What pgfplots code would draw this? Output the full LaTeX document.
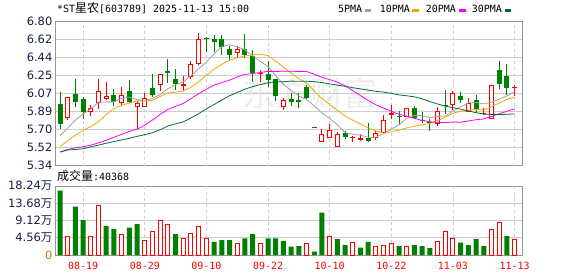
\documentclass[border=0pt]{standalone}
\usepackage{fontspec}
\setmainfont{DejaVu Sans}
\newfontfamily\mono{DejaVu Sans Mono}
\newfontfamily\cjk{Noto Sans CJK SC}
\usepackage{pgfplots}
\usepackage{pgfplotstable}
\pgfplotsset{compat=1.18}

\definecolor{cred}{RGB}{255,0,0}
\definecolor{cgreen}{RGB}{0,128,0}
\definecolor{maA}{RGB}{160,160,160}
\definecolor{maB}{RGB}{245,165,0}
\definecolor{maC}{RGB}{255,0,255}
\definecolor{maD}{RGB}{0,110,50}
\definecolor{gridc}{RGB}{205,205,205}
\definecolor{framec}{RGB}{150,150,150}
\definecolor{lbl}{RGB}{20,30,70}
\definecolor{zeroc}{RGB}{215,120,0}

\pgfplotstableread{
i open high low close
0 5.96 6.09 5.71 5.76
1 5.82 6.04 5.80 6.04
2 6.07 6.22 5.93 5.98
3 6.02 6.04 5.81 5.88
4 5.88 5.95 5.84 5.92
5 5.97 6.22 5.91 6.10
6 6.02 6.19 6.00 6.05
7 6.06 6.12 5.94 5.98
8 5.97 6.14 5.94 6.06
9 6.10 6.21 5.97 5.98
10 5.93 5.99 5.71 5.97
11 5.93 6.08 5.93 6.03
12 6.13 6.27 6.04 6.06
13 6.16 6.27 6.10 6.27
14 6.30 6.42 6.18 6.28
15 6.22 6.32 6.11 6.17
16 6.15 6.25 6.10 6.17
17 6.24 6.40 6.22 6.37
18 6.37 6.69 6.36 6.62
19 6.63 6.64 6.49 6.62
20 6.62 6.66 6.49 6.59
21 6.62 6.67 6.46 6.54
22 6.52 6.55 6.41 6.46
23 6.48 6.55 6.43 6.52
24 6.52 6.68 6.43 6.46
25 6.45 6.51 6.19 6.28
26 6.27 6.31 6.19 6.28
27 6.27 6.40 6.14 6.21
28 6.22 6.22 5.99 6.05
29 5.93 6.03 5.90 6.01
30 6.02 6.08 5.94 5.98
31 6.00 6.08 5.92 5.98
32 6.14 6.16 6.00 6.03
33 5.73 5.73 5.72 5.72
34 5.58 5.71 5.58 5.66
35 5.62 5.76 5.62 5.70
36 5.53 5.68 5.53 5.66
37 5.67 5.69 5.61 5.63
38 5.62 5.64 5.58 5.63
39 5.60 5.66 5.59 5.62
40 5.62 5.77 5.58 5.59
41 5.62 5.69 5.60 5.67
42 5.67 5.85 5.67 5.80
43 5.85 5.95 5.81 5.87
44 5.84 5.89 5.76 5.83
45 5.83 5.92 5.83 5.92
46 5.92 5.94 5.81 5.82
47 5.80 5.88 5.77 5.79
48 5.78 5.81 5.69 5.77
49 5.76 5.93 5.74 5.89
50 5.95 6.11 5.86 5.94
51 5.95 6.10 5.90 6.08
52 6.05 6.09 5.97 6.00
53 5.88 6.03 5.88 5.97
54 6.01 6.06 5.87 5.91
55 5.865 5.92 5.85 5.87
56 5.81 6.16 5.81 6.16
57 6.31 6.40 6.12 6.17
58 6.25 6.37 6.06 6.13
59 6.13 6.16 6.05 6.14
}\candles

\pgfplotstableread{
i a b c d
0 5.643 5.530 5.477 5.477
1 5.719 5.593 5.503 5.497
2 5.802 5.649 5.520 5.503
3 5.862 5.696 5.530 5.510
4 5.916 5.736 5.547 5.530
5 5.984 5.785 5.570 5.547
6 5.986 5.858 5.596 5.566
7 5.986 5.918 5.626 5.583
8 6.022 5.951 5.656 5.600
9 6.034 5.975 5.686 5.616
10 6.008 5.996 5.709 5.636
11 6.004 5.995 5.749 5.653
12 6.018 6.002 5.802 5.673
13 6.060 6.041 5.858 5.703
14 6.120 6.077 5.910 5.742
15 6.160 6.084 5.940 5.763
16 6.188 6.096 5.970 5.783
17 6.252 6.135 6.020 5.823
18 6.322 6.191 6.070 5.866
19 6.390 6.255 6.115 5.916
20 6.474 6.317 6.157 5.959
21 6.548 6.368 6.182 6.005
22 6.566 6.409 6.206 6.048
23 6.546 6.434 6.238 6.082
24 6.514 6.452 6.265 6.115
25 6.452 6.463 6.274 6.141
26 6.396 6.472 6.284 6.161
27 6.346 6.456 6.296 6.181
28 6.252 6.399 6.295 6.191
29 6.162 6.338 6.297 6.189
30 6.102 6.277 6.297 6.197
31 6.046 6.221 6.295 6.195
32 6.010 6.178 6.294 6.196
33 5.944 6.098 6.266 6.191
34 5.874 6.018 6.235 6.182
35 5.818 5.960 6.212 6.169
36 5.754 5.900 6.186 6.156
37 5.674 5.842 6.149 6.144
38 5.656 5.800 6.100 6.130
39 5.648 5.761 6.050 6.118
40 5.626 5.722 6.000 6.105
41 5.628 5.691 5.956 6.093
42 5.662 5.668 5.923 6.085
43 5.710 5.683 5.891 6.072
44 5.752 5.700 5.859 6.057
45 5.818 5.722 5.841 6.048
46 5.848 5.738 5.819 6.037
47 5.846 5.754 5.798 6.017
48 5.826 5.768 5.784 5.989
49 5.838 5.795 5.778 5.965
50 5.842 5.830 5.776 5.943
51 5.894 5.871 5.781 5.928
52 5.936 5.891 5.780 5.912
53 5.976 5.901 5.792 5.894
54 5.980 5.909 5.805 5.876
55 5.966 5.904 5.813 5.862
56 5.982 5.938 5.838 5.859
57 6.014 5.975 5.865 5.857
58 6.046 6.011 5.890 5.860
59 6.091 6.036 5.916 5.864
}\mas

\pgfplotstableread{
i v
1 5.02
4 5.02
5 13.2
8 5.55
11 3.96
12 6.34
13 8.99
14 8.19
16 4.41
17 5.73
18 7.66
19 4.41
23 3.08
26 3.08
32 2.91
35 5.02
38 3.35
41 2.38
42 2.64
43 2.91
45 2.38
49 3.70
50 6.34
51 4.41
56 6.61
57 8.72
59 4.0368
}\volred

\pgfplotstableread{
i v
0 17.0
2 12.77
3 9.25
6 7.66
7 6.87
9 7.23
10 8.19
15 5.55
20 3.50
21 3.96
22 3.96
24 4.41
25 5.55
27 4.41
28 4.41
29 3.70
30 2.20
31 2.38
33 0.88
34 11.18
36 4.23
37 2.64
39 1.94
40 3.44
44 2.38
46 2.64
47 2.38
48 1.85
52 3.26
53 2.64
54 4.23
55 2.38
58 5.02
}\volgreen

\pgfplotsset{
  kbase/.style={
    scale only axis,
    width=466.6bp,
    xmin=-0.56, xmax=60,
    axis line style={draw=framec, line width=0.9bp},
    major tick length=0pt,
    ymajorgrids,
    major grid style={draw=gridc, line width=0.8bp},
    extra x ticks={3,11,19,27,35,43,51,59},
    extra x tick labels={,,,,,,,},
    extra x tick style={grid=major, major grid style={draw=gridc, line width=0.8bp, dash pattern=on 3bp off 3bp}},
    yticklabel style={font=\fontsize{11.5}{12}\selectfont, text=lbl, inner sep=0pt, xshift=-3.2bp},
  },
  wick/.style={draw=none, mark=none, forget plot,
    error bars/.cd, y dir=plus, y explicit, error mark=none,
    error bar style={draw=#1, line width=1bp}, /pgfplots/.cd},
  body/.style 2 args={draw=none, mark=none, forget plot,
    error bars/.cd, y dir=plus, y explicit, error mark=none,
    error bar style={draw=#1, line width=#2}, /pgfplots/.cd},
}

\begin{document}
\begin{tikzpicture}
\path (0bp,0bp) rectangle (578bp,-276bp);
\node[text=gray!13, font=\cjk\fontsize{34}{34}\selectfont, anchor=center] at (310bp,-93bp) {东方财富};

\node[anchor=base west, inner sep=0pt] at (57bp,-12.5bp) {\mono\fontsize{10}{12}\selectfont *ST{\cjk\fontsize{12}{12}\selectfont 星农}[603789] 2025-11-13 15:00};

\node[anchor=base west, inner sep=0pt] at (338bp,-12.5bp) {\mono\fontsize{10}{12}\selectfont 5PMA};
\fill[maA] (364.7bp,-9.3bp) rectangle (371.3bp,-11.6bp);
\node[anchor=base west, inner sep=0pt] at (379.7bp,-12.5bp) {\mono\fontsize{10}{12}\selectfont 10PMA};
\fill[maB] (412.3bp,-9.3bp) rectangle (419bp,-11.6bp);
\node[anchor=base west, inner sep=0pt] at (425.7bp,-12.5bp) {\mono\fontsize{10}{12}\selectfont 20PMA};
\fill[maC] (459bp,-9.3bp) rectangle (465.7bp,-11.6bp);
\node[anchor=base west, inner sep=0pt] at (471.7bp,-12.5bp) {\mono\fontsize{10}{12}\selectfont 30PMA};
\fill[maD] (504.7bp,-9.3bp) rectangle (510.7bp,-11.6bp);

\node[anchor=base west, inner sep=0pt] at (57bp,-180.5bp) {{\cjk\fontsize{12}{12}\selectfont 成交量}{\mono\fontsize{10}{12}\selectfont :40368}};

\begin{axis}[kbase, at={(55.7bp,-165.5bp)}, anchor=south west, height=143.8bp,
  ymin=5.34, ymax=6.80,
  ytick={5.34,5.5225,5.705,5.8875,6.07,6.2525,6.435,6.6175,6.80},
  yticklabels={5.34,5.52,5.70,5.89,6.07,6.25,6.44,6.62,6.80},
  xtick=\empty]
% wicks
\addplot[restrict expr to domain={\thisrow{close}-\thisrow{open}}{0:10}, wick=cred]
  table[x=i, y=low, y error plus expr={\thisrow{high}-\thisrow{low}}]{\candles};
\addplot[restrict expr to domain={\thisrow{close}-\thisrow{open}}{-10:-0.0001}, wick=cgreen]
  table[x=i, y=low, y error plus expr={\thisrow{high}-\thisrow{low}}]{\candles};
% red bodies (hollow)
\addplot[restrict expr to domain={\thisrow{close}-\thisrow{open}}{0:10}, body={cred}{5bp}]
  table[x=i, y=open, y error plus expr={max(\thisrow{close}-\thisrow{open},0.0102)}]{\candles};
\addplot[restrict expr to domain={\thisrow{close}-\thisrow{open}}{0.025:10}, body={white}{3bp}]
  table[x=i, y expr={\thisrow{open}+0.0102}, y error plus expr={\thisrow{close}-\thisrow{open}-0.0204}]{\candles};
% green bodies (filled)
\addplot[restrict expr to domain={\thisrow{close}-\thisrow{open}}{-10:-0.0001}, body={cgreen}{5bp}]
  table[x=i, y=close, y error plus expr={max(\thisrow{open}-\thisrow{close},0.0102)}]{\candles};
% moving averages
\addplot[maA, line width=0.8bp, mark=none] table[x=i, y=a]{\mas};
\addplot[maB, line width=0.8bp, mark=none] table[x=i, y=b]{\mas};
\addplot[maC, line width=0.8bp, mark=none] table[x=i, y=c]{\mas};
\addplot[maD, line width=0.8bp, mark=none] table[x=i, y=d]{\mas};
\end{axis}

\begin{axis}[kbase, at={(55.7bp,-255bp)}, anchor=south west, height=69bp,
  ymin=0, ymax=18.24,
  ytick={0,4.56,9.12,13.68,18.24},
  yticklabels={{\textcolor{zeroc}{0}},{4.56{\cjk 万}},{9.12{\cjk 万}},{13.68{\cjk 万}},{18.24{\cjk 万}}},
  xtick={3,11,19,27,35,43,51,59},
  xticklabels={08-19,08-29,09-10,09-22,10-10,10-22,11-03,11-13},
  xticklabel style={font=\mono\fontsize{10}{12}\selectfont, text=cred, inner sep=0pt, yshift=-6.5bp}]
\addplot[ybar, bar width=5bp, bar shift=0pt, fill=cgreen, draw=none] table[x=i, y=v]{\volgreen};
\addplot[ybar, bar width=4bp, bar shift=0pt, fill=white, draw=cred, line width=1bp] table[x=i, y=v]{\volred};
\end{axis}
\end{tikzpicture}
\end{document}
